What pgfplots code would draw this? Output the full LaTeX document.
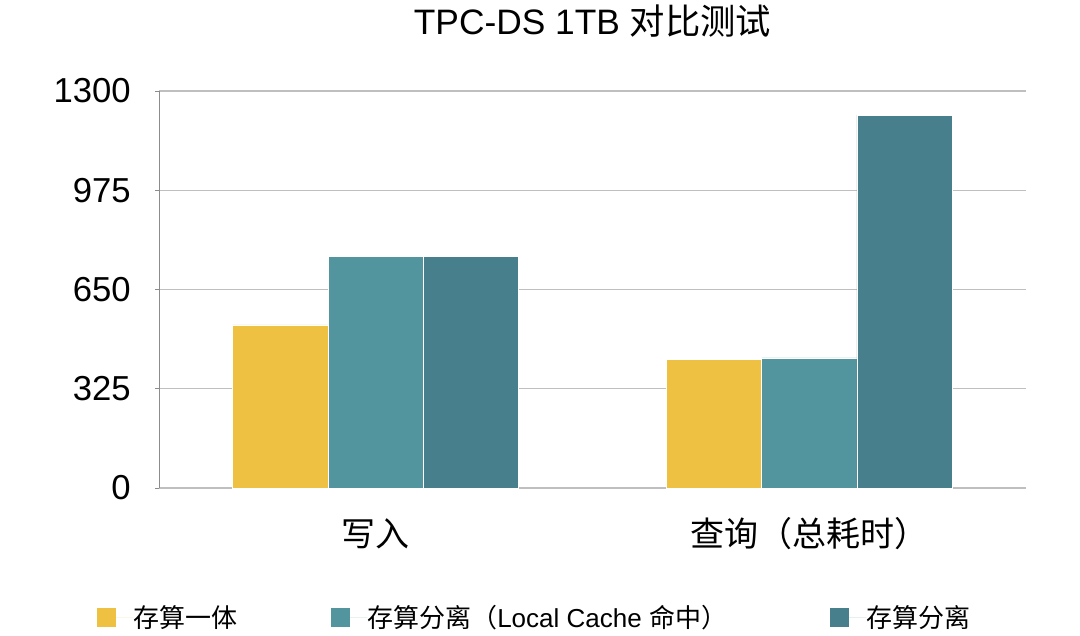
\documentclass[border=0pt]{standalone}
\usepackage{fontspec}
\usepackage{pgfplots}
\pgfplotsset{compat=1.18}
\setmainfont{Liberation Sans}
\newfontfamily\cjk{Noto Sans CJK SC}
\definecolor{cyellow}{HTML}{EFC142}
\definecolor{cteal}{HTML}{52959F}
\definecolor{cdark}{HTML}{487F8D}
\definecolor{cgrid}{HTML}{BFBFBF}
\definecolor{caxis}{HTML}{8C8C8C}
\begin{document}
\begin{tikzpicture}
\useasboundingbox (0,0) rectangle (810pt,476.25pt);
\begin{axis}[
  at={(119.25pt,110.25pt)}, anchor=south west,
  scale only axis,
  width=650.25pt, height=297.75pt,
  xmin=-0.5, xmax=1.5,
  ymin=0, ymax=1300,
  ytick={0,325,650,975,1300},
  xtick={0,1},
  xticklabels={{\cjk 写入},{\cjk 查询（总耗时）}},
  x tick style={draw=none},
  extra x ticks={-0.5,0.5,1.5},
  extra x tick labels={},
  extra x tick style={major tick length=3pt, tick style={draw=caxis, line width=0.6pt}, grid=none},
  tick align=outside,
  y tick style={draw=caxis, line width=0.6pt},
  major tick length=3pt,
  axis x line*=bottom,
  axis y line*=left,
  x axis line style={draw=cgrid, line width=1pt, -},
  y axis line style={draw=caxis, line width=0.75pt, -},
  ymajorgrids,
  major grid style={draw=cgrid, line width=1pt},
  /pgf/number format/assume math mode=true,
  /pgf/number format/1000 sep={},
  ticklabel style={font=\fontsize{26pt}{30pt}\selectfont},
  yticklabel style={anchor=east, inner sep=0pt, xshift=-18pt},
  xticklabel style={font=\fontsize{25.5pt}{30pt}\selectfont, anchor=center, yshift=-31pt},
  title={TPC-DS 1TB {\cjk 对比测试}},
  title style={font=\fontsize{26.5pt}{31pt}\selectfont, at={(axis description cs:0.5,1)}, anchor=center, yshift=46.5pt},
  ybar,
  bar width=0.22,
  legend columns=3,
  legend style={draw=none, fill=none, at={(axis description cs:0,0)}, anchor=west,
    xshift=-49.5pt, yshift=-97.1pt, column sep=0pt,
    font=\fontsize{19.5pt}{23pt}\selectfont,
    nodes={inner sep=0pt, anchor=west}},
  legend image code/.code={
    \fill[#1, draw=none] (0pt,-7.125pt) rectangle (14.25pt,7.125pt);
    \path[draw=none] (0pt,0pt) -- (27pt,0pt);
  },
]
\addplot[fill=cyellow, draw=white, line width=0.6pt, bar shift=-0.22] coordinates {(0,534) (1,420)};
\addplot[fill=cteal, draw=white, line width=0.6pt, bar shift=0] coordinates {(0,757) (1,426)};
\addplot[fill=cdark, draw=white, line width=0.6pt, bar shift=0.22] coordinates {(0,757) (1,1221)};
\legend{\makebox[148.5pt][l]{\cjk 存算一体},\makebox[347.25pt][l]{{\cjk 存算分离（}Local Cache {\cjk 命中）}},{\cjk 存算分离}}
\end{axis}
\end{tikzpicture}
\end{document}
